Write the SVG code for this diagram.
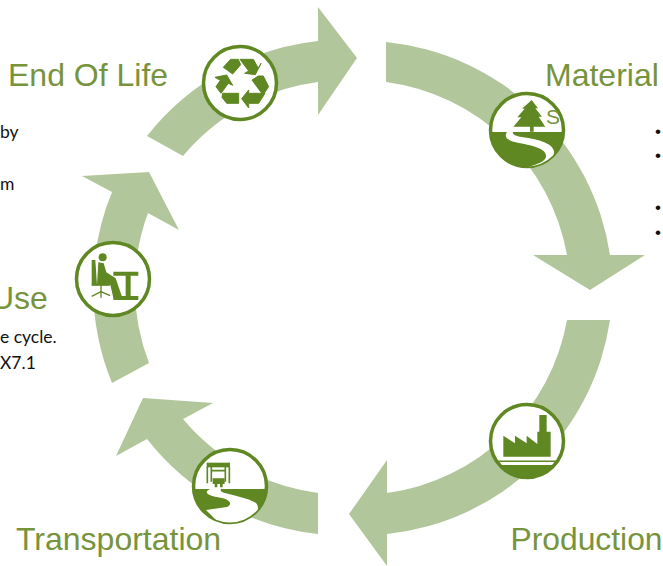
<svg xmlns="http://www.w3.org/2000/svg" width="663" height="566" viewBox="0 0 663 566">
<style>
.arrow{fill:#b2c69b}
.ring{fill:#fff;stroke:#5f8722;stroke-width:3.5}
.ink{fill:#5f8722}
.ink2{fill:#5f8722;stroke:#5f8722;stroke-width:3;stroke-linejoin:round}
.cut{fill:#fff}
.line{fill:none;stroke:#5f8722}
.title{font-family:"Liberation Sans",Arial,sans-serif;font-size:32px;fill:#77933c}
.body{font-family:Lato,"Liberation Sans",sans-serif;font-size:17.5px;fill:#111}
</style>
<defs>
<clipPath id="disc"><circle r="36.5"/></clipPath>
</defs>
<rect width="663" height="566" fill="#fff"/>
<g id="connectors">
<path class="arrow" d="M386,42A252,252 0 0 1 610,255L645,255L590,290L533,255L567,255A212,212 0 0 0 386,82Z"/>
<path class="arrow" d="M610,320A252,252 0 0 1 387,534L387,566L349,514L387,460L387,493A212,212 0 0 0 567,320Z"/>
<path class="arrow" d="M318,534A252,252 0 0 1 147,439L116,456L143,398L213,403L183,419A212,212 0 0 0 318,493Z"/>
<path class="arrow" d="M112,383A252,252 0 0 1 112,192L82,176L149,172L179,230L148,213A212,212 0 0 0 149,363Z"/>
<path class="arrow" d="M147,136A252,252 0 0 1 318,41L318,7L357,58L318,115L318,82A212,212 0 0 0 183,156Z"/>
</g>
<g id="node-end-of-life">
<circle class="ring" cx="240" cy="83" r="36.5"/>
<g transform="translate(190 40) scale(.3333)">
<path class="ink2" d="M100,82L122,58H145L152,74L128,102Z"/>
<path class="ink2" d="M150,58H190L205,85L213,70L196,104L164,100L176,93Z"/>
<path class="ink2" d="M205,108L220,108L236,140L219,165L186,120Z"/>
<path class="ink2" d="M225,160L206,190H176V204L155,176L176,150V160Z"/>
<path class="ink2" d="M98,160H146V190H110L96,172Z"/>
<path class="ink2" d="M75,112L110,105L128,136L115,130L93,160L78,140L91,121Z"/>
</g>
<text class="title" x="8" y="86">End Of Life</text>
</g>
<g id="node-material">
<circle class="ring" cx="527" cy="130" r="36.5"/>
<g transform="translate(527 130)" clip-path="url(#disc)">
<rect class="ink" x="-40" y="2" width="80" height="40"/>
<path class="cut" d="M-20,2C-24,8 -18,11 -8,13C8,16 20,19 19,27C18,32 8,35 -2,38L8,40C20,35 28,28 27,21C25,12 8,9 -5,7C-12,6 -15,4 -14,2Z"/>
</g>
<g transform="translate(480 90) scale(.3333)">
<path class="ink" d="M155,30L174,55H166L186,80H176L196,110H161V125H150V110H100L124,82H112L134,56H126Z"/>
</g>
<text x="546" y="124" font-family="Liberation Sans, Arial, sans-serif" font-size="21" fill="#77933c">S</text>
<text class="title" x="545" y="86">Material</text>
<g font-family="Liberation Sans, Arial, sans-serif" font-size="17" fill="#111">
<text x="655" y="137">•</text>
<text x="655" y="161">•</text>
<text x="655" y="213">•</text>
<text x="655" y="238">•</text>
</g>
</g>
<g id="node-production">
<circle class="ring" cx="527" cy="441" r="36.5"/>
<g transform="translate(527 441)" clip-path="url(#disc)">
<rect class="ink" x="-40" y="24" width="80" height="18"/>
<rect class="ink" x="-40" y="19.5" width="80" height="1.5"/>
</g>
<g transform="translate(480 395) scale(.3333)">
<path class="ink" d="M70,122V185H212V110H200V60H178V110H172V147L140,122V145L105,122V145Z"/>
</g>
<text class="title" x="510.5" y="550" style="font-size:31.8px">Production</text>
</g>
<g id="node-transportation">
<circle class="ring" cx="230" cy="486" r="36.5"/>
<g transform="translate(230 486)" clip-path="url(#disc)">
<rect class="ink" x="-40" y="3" width="80" height="40"/>
<path class="cut" d="M-23,5C-25,9 -16,11 -8,12C0,14 3,18 -3,21L-24,24L-8,40L12,40C24,34 32,24 26,17C18,12 2,9 -5,7C-9,6 -10,5 -9,3H-20Z"/>
</g>
<g transform="translate(180 440) scale(.3333)">
<path class="ink" d="M80,68H150V82H80Z"/>
<path class="line" stroke-width="5" d="M82,80V130M94,80V125M148,80V130M136,80V125M94,92H136"/>
<path class="ink" d="M98,115H134V132H128V142H120V132H112V142H104V132H98Z"/>
</g>
<text class="title" x="16" y="550">Transportation</text>
</g>
<g id="node-use">
<circle class="ring" cx="113" cy="279" r="36.5"/>
<g transform="translate(65 235) scale(.3333)">
<circle class="ink" cx="113" cy="67" r="12"/>
<path class="ink" d="M80,75H91L96,150H80Z"/>
<path class="ink" d="M100,82L116,85L124,112L152,130L172,188H145L136,150H96Z"/>
<path class="line" stroke-width="5" d="M80,150H134"/>
<path class="line" stroke-width="4" d="M108,150V170M108,170L80,184M108,170L135,182M108,170V188"/>
<path class="ink" d="M145,110H220V122H197V183H220V195H145V183H182V122H145Z"/>
</g>
<text class="title" x="-9" y="309">Use</text>
<text class="body" x="0" y="343">e cycle.</text>
<text class="body" x="0" y="369">X7.1</text>
</g>
<g id="fragments">
<text class="body" x="0" y="138">by</text>
<text class="body" x="0" y="190">m</text>
</g>
</svg>
